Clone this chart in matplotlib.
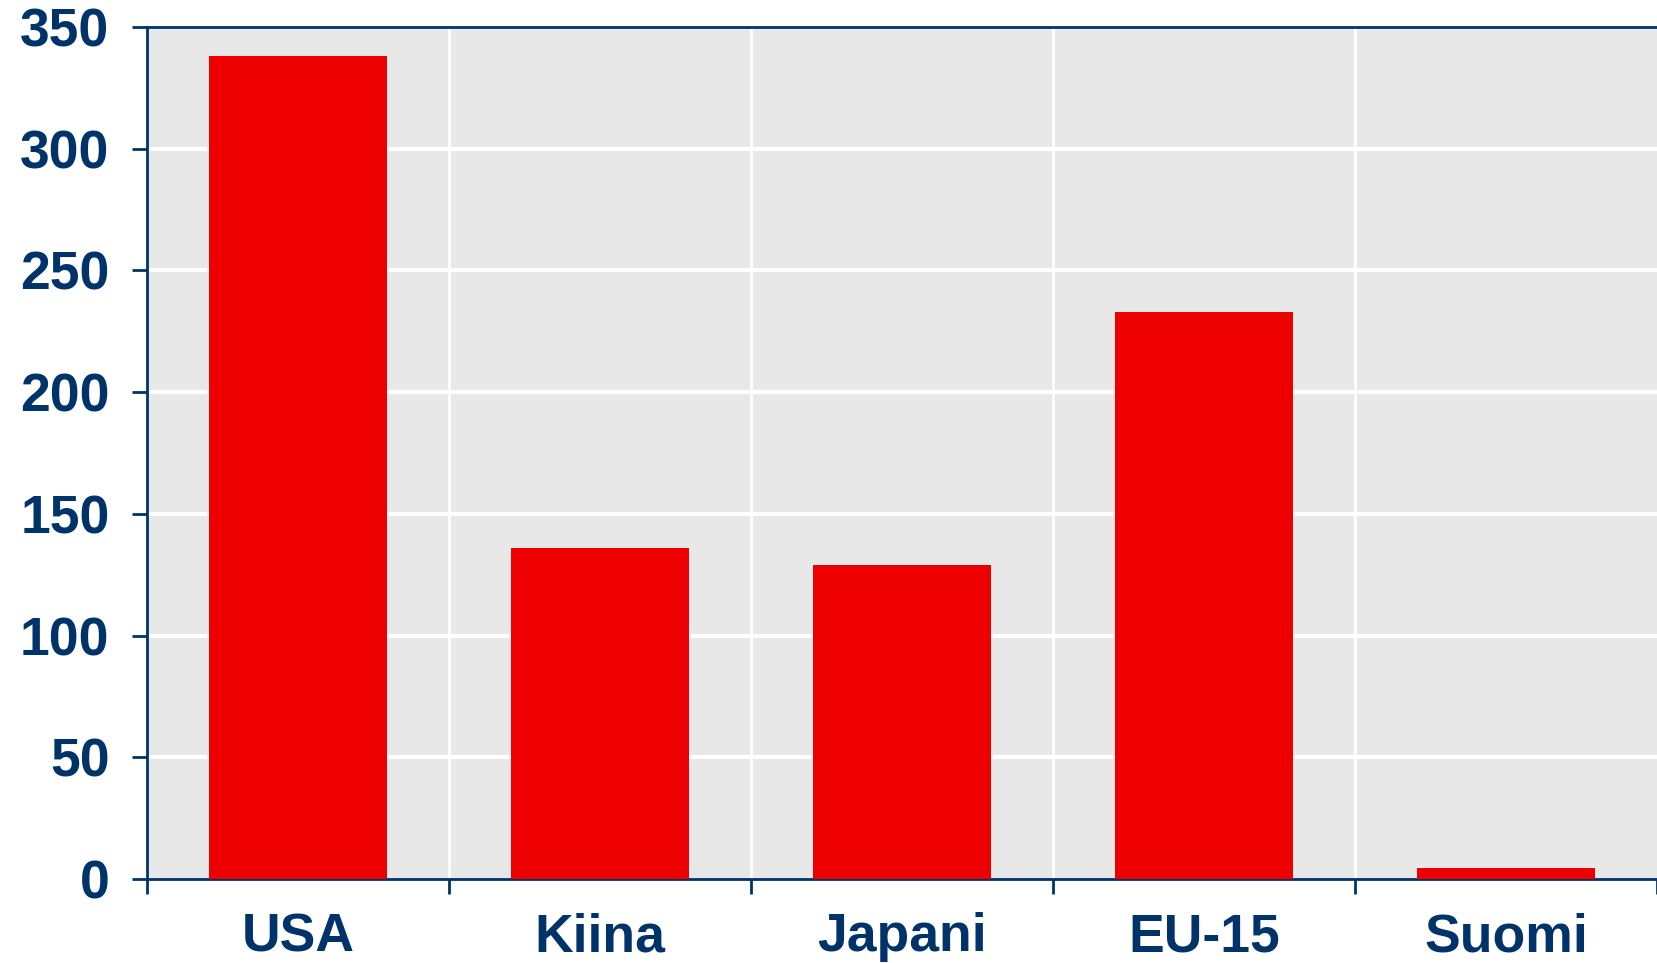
import matplotlib
matplotlib.use('Agg')
import matplotlib.pyplot as plt
import numpy as np

plt.rcParams['font.family'] = ['Liberation Sans', 'DejaVu Sans']

countries = ['USA', 'Kiina', 'Japani', 'EU-15', 'Suomi']
values = [338, 136, 129, 233, 4.5]
yticks = [0, 50, 100, 150, 200, 250, 300, 350]

navy = '#00336a'

fig = plt.figure(figsize=(16.58, 9.63), dpi=100)
ax = fig.add_axes([147/1658, 84/963, 1510/1658, 852/963])
ax.set_facecolor('#e8e8e8')

x = np.arange(len(countries))
ax.bar(x, values, width=0.59, color='#ee0000', zorder=3)

ax.set_xlim(-0.5, len(countries) - 0.5)
ax.set_ylim(0, 350)
ax.set_yticks(yticks)
ax.set_yticklabels([str(v) for v in yticks])

# category boundaries carry the x ticks and vertical grid lines
ax.set_xticks(np.arange(len(countries) + 1) - 0.5)
ax.set_xticklabels([])
ax.set_xticks(x, minor=True)
ax.set_xticklabels(countries, minor=True)
ax.tick_params(axis='x', which='minor', length=0, pad=24)

for yv in yticks[1:-1]:
    ax.axhline(yv, color='white', lw=3, zorder=1)
for xv in np.arange(1, len(countries)) - 0.5:
    ax.axvline(xv, color='white', lw=2, zorder=1)

for side in ['left', 'bottom', 'top']:
    ax.spines[side].set_color(navy)
    ax.spines[side].set_linewidth(2)
ax.spines['right'].set_visible(False)

ax.tick_params(axis='both', which='major', direction='out', length=11, width=2, color=navy)
ax.tick_params(axis='y', pad=16)
for lbl in ax.get_yticklabels() + ax.get_xticklabels(minor=True):
    lbl.set_fontsize(38.5)
    lbl.set_fontweight('bold')
    lbl.set_color(navy)

plt.savefig('out.png', dpi=100)
